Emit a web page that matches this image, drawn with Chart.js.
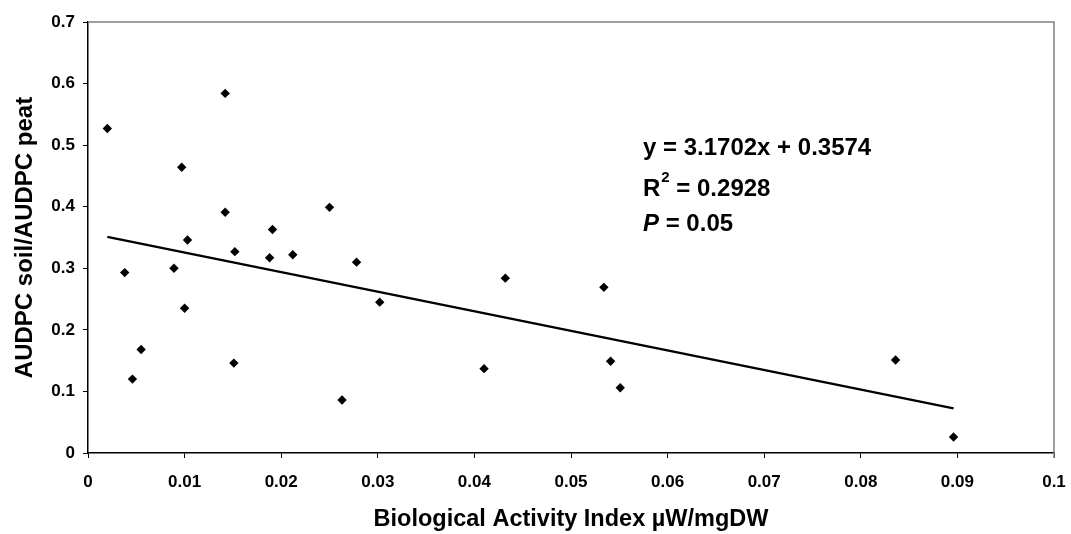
<!DOCTYPE html>
<html><head><meta charset="utf-8">
<script src="https://cdn.jsdelivr.net/npm/chart.js@4"></script>
<style>html,body{margin:0;padding:0;background:#fff}#wrap{width:1071px;height:534px}</style>
</head><body><div id="wrap"><canvas id="c" width="1071" height="534"></canvas></div>
<script>
// Data
const xValues = [0.0020, 0.0038, 0.0046, 0.0055, 0.0089, 0.0097, 0.0100, 0.0103, 0.0142, 0.0142, 0.0151, 0.0152, 0.0188, 0.0191, 0.0212, 0.0250, 0.0263, 0.0278, 0.0302, 0.0410, 0.0432, 0.0534, 0.0541, 0.0551, 0.0836, 0.0896];
const yValues = [0.527, 0.293, 0.120, 0.168, 0.300, 0.464, 0.235, 0.346, 0.584, 0.391, 0.146, 0.327, 0.317, 0.363, 0.322, 0.399, 0.086, 0.310, 0.245, 0.137, 0.284, 0.269, 0.149, 0.106, 0.151, 0.026];
const trendX = [0.0020, 0.0896];
const trendY = [0.351, 0.0725];
const xTicks = [0, 0.01, 0.02, 0.03, 0.04, 0.05, 0.06, 0.07, 0.08, 0.09, 0.1];
const xTickLabels = ['0', '0.01', '0.02', '0.03', '0.04', '0.05', '0.06', '0.07', '0.08', '0.09', '0.1'];
const yTicks = [0, 0.1, 0.2, 0.3, 0.4, 0.5, 0.6, 0.7];
const yTickLabels = ['0', '0.1', '0.2', '0.3', '0.4', '0.5', '0.6', '0.7'];
const xTitle = 'Biological Activity Index µW/mgDW';
const yTitle = 'AUDPC soil/AUDPC peat';
const eqText = 'y = 3.1702x + 0.3574';
const r2Value = ' = 0.2928';
const pValue = ' = 0.05';

const FAM = '"Liberation Sans", Arial, sans-serif';

const annotPlugin = {
  id: 'annot',
  afterDraw(chart) {
    const ctx = chart.ctx;
    const a = chart.chartArea;
    ctx.save();
    // gray top and right frame
    ctx.strokeStyle = '#808080';
    ctx.lineWidth = 1.5;
    ctx.beginPath();
    ctx.moveTo(a.left, a.top);
    ctx.lineTo(a.right, a.top);
    ctx.lineTo(a.right, a.bottom + 5);
    ctx.stroke();
    // equation text
    ctx.fillStyle = '#000';
    ctx.textBaseline = 'alphabetic';
    ctx.textAlign = 'left';
    const x0 = 643;
    ctx.font = 'bold 24px ' + FAM;
    ctx.fillText(eqText, x0, 155);
    ctx.fillText('R', x0, 196);
    let w = ctx.measureText('R').width;
    ctx.font = 'bold 15px ' + FAM;
    ctx.fillText('2', x0 + w + 1, 182);
    let w2 = ctx.measureText('2').width;
    ctx.font = 'bold 24px ' + FAM;
    ctx.fillText(r2Value, x0 + w + w2 + 1, 196);
    ctx.font = 'italic bold 24px ' + FAM;
    ctx.fillText('P', x0, 231);
    w = ctx.measureText('P').width;
    ctx.font = 'bold 24px ' + FAM;
    ctx.fillText(pValue, x0 + w, 231);
    ctx.restore();
  }
};

new Chart(document.getElementById('c'), {
  type: 'scatter',
  data: {
    datasets: [
      {
        data: xValues.map((x, i) => ({x: x, y: yValues[i]})),
        pointStyle: 'rectRot',
        pointRadius: 4.7,
        backgroundColor: '#000',
        borderColor: '#000',
        borderWidth: 0
      },
      {
        type: 'line',
        data: trendX.map((x, i) => ({x: x, y: trendY[i]})),
        showLine: true,
        pointRadius: 0,
        borderColor: '#000',
        borderWidth: 2.5,
        fill: false
      }
    ]
  },
  options: {
    responsive: false,
    animation: false,
    devicePixelRatio: 1,
    layout: {padding: {left: 0, right: 17, top: 22, bottom: 0}},
    plugins: {legend: {display: false}, tooltip: {enabled: false}},
    scales: {
      x: {
        type: 'linear', position: 'bottom', min: 0, max: 0.1,
        afterBuildTicks: s => { s.ticks = xTicks.map(v => ({value: v})); },
        afterFit: s => { s.height = 81; s.paddingLeft = 0; s.paddingRight = 0; },
        grid: {drawOnChartArea: false, drawTicks: true, tickLength: 5, color: '#000', lineWidth: 1},
        border: {display: true, color: '#000', width: 1.5},
        ticks: {
          callback: (v, i) => xTickLabels[i],
          color: '#000', padding: 14, maxRotation: 0, autoSkip: false,
          font: {family: FAM, weight: 'bold', size: 17}
        },
        title: {display: true, text: xTitle, color: '#000', padding: {top: 0, bottom: 0},
          font: {family: FAM, weight: 'bold', size: 23.5}}
      },
      y: {
        type: 'linear', min: 0, max: 0.7,
        afterBuildTicks: s => { s.ticks = yTicks.map(v => ({value: v})); },
        afterFit: s => { s.width = 88; s.paddingTop = 0; s.paddingBottom = 0; },
        grid: {drawOnChartArea: false, drawTicks: true, tickLength: 5, color: '#000', lineWidth: 1},
        border: {display: true, color: '#000', width: 1.5},
        ticks: {
          callback: (v, i) => yTickLabels[i],
          color: '#000', padding: 8, autoSkip: false,
          font: {family: FAM, weight: 'bold', size: 17}
        },
        title: {display: true, text: yTitle, color: '#000', padding: {top: 11, bottom: 0},
          font: {family: FAM, weight: 'bold', size: 24}}
      }
    }
  },
  plugins: [annotPlugin]
});
</script>
</body></html>
